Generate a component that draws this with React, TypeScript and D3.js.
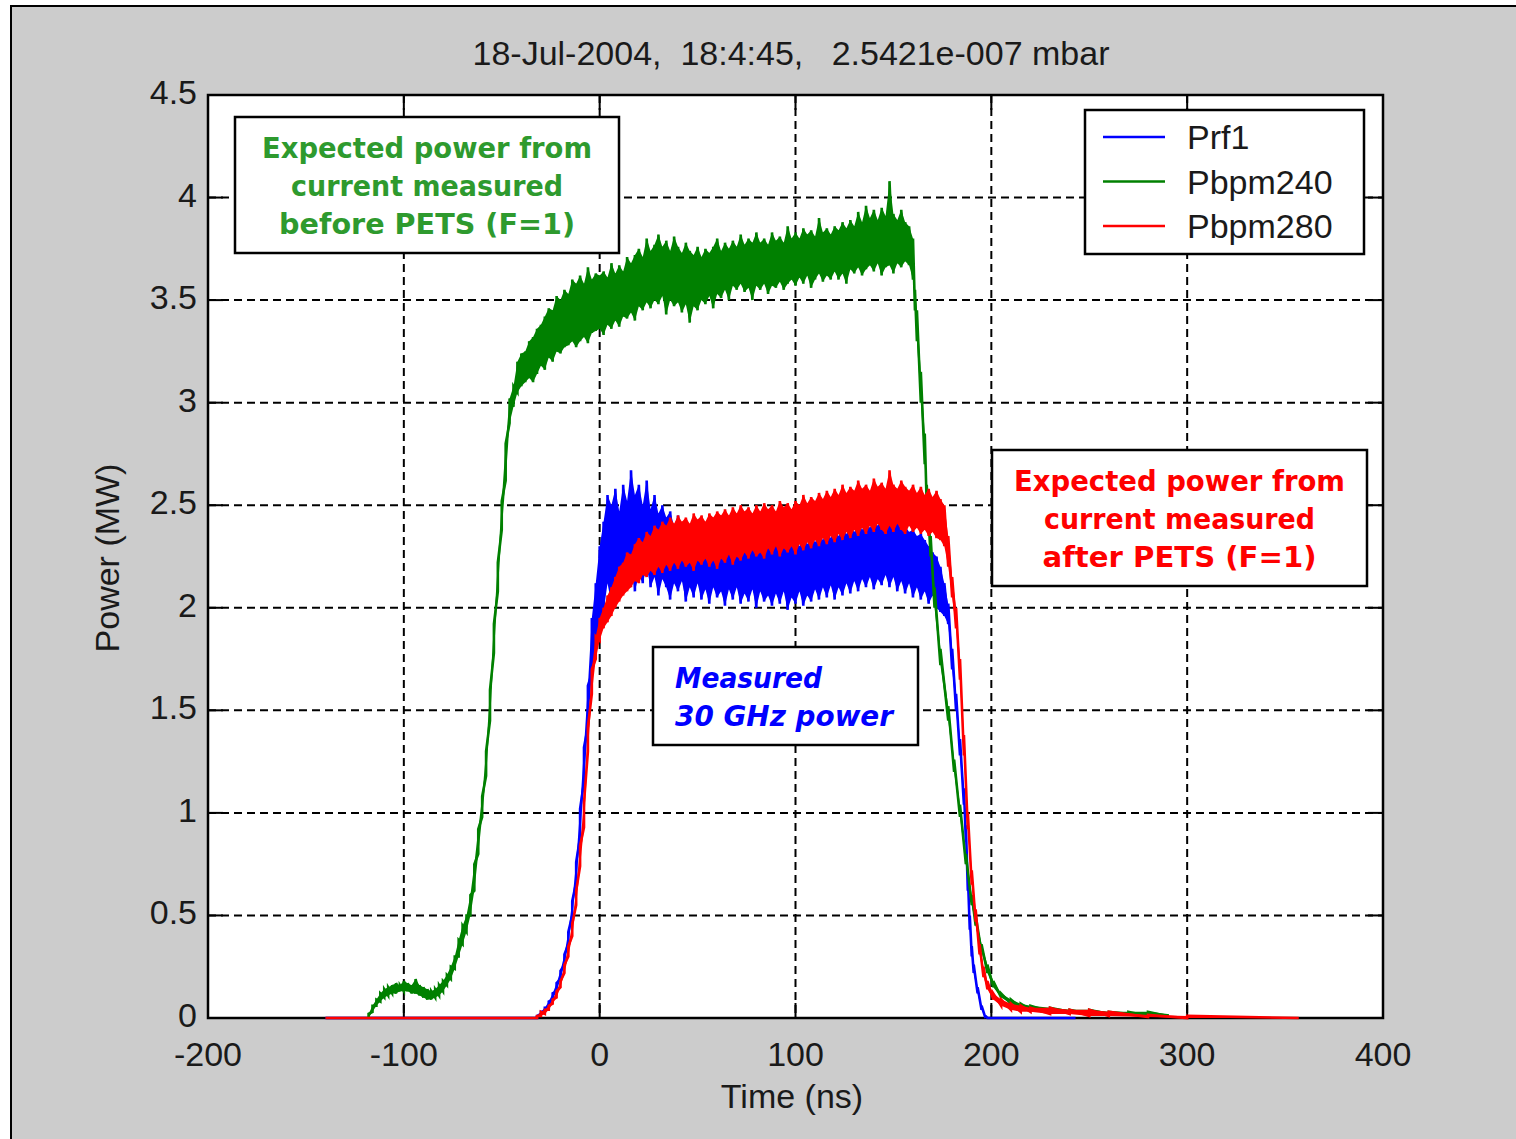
import React from 'react';
import * as d3 from 'd3';

// [time (ns), low, high] in MW — low/high give the noise envelope of each sample
type Sample = [number, number, number];

const xTicks = [-200, -100, 0, 100, 200, 300, 400];
const yTicks = [0, 0.5, 1, 1.5, 2, 2.5, 3, 3.5, 4, 4.5];

const titleText = '18-Jul-2004,  18:4:45,   2.5421e-007 mbar';
const xLabel = 'Time (ns)';
const yLabel = 'Power (MW)';

const prf1: Sample[] = [
  [-140, 0, 0], [-34, 0, 0], [-32, 0, 0.01], [-30, 0.02, 0.03], [-28, 0.03, 0.05], [-26, 0.05, 0.08],
  [-24, 0.09, 0.12], [-22, 0.13, 0.17], [-20, 0.19, 0.23], [-18, 0.26, 0.31], [-16, 0.36, 0.42],
  [-14, 0.5, 0.57], [-12, 0.66, 0.76], [-10, 0.88, 1.02], [-8, 1.15, 1.32], [-6, 1.42, 1.62],
  [-4, 1.68, 1.95], [-2, 1.78, 2.12], [0, 1.88, 2.3],
  [2, 1.98, 2.42], [4, 2.12, 2.55], [6, 2.02, 2.5], [8, 2.15, 2.58], [10, 2.05, 2.47], [12, 2.18, 2.6],
  [14, 2.1, 2.52], [16, 2.2, 2.67], [18, 2.08, 2.55], [20, 2.16, 2.6], [22, 2.12, 2.5], [24, 2.2, 2.62],
  [26, 2.1, 2.48], [28, 2.15, 2.55], [30, 2.06, 2.46], [32, 2.14, 2.5], [34, 2.1, 2.44], [36, 2.04, 2.47],
  [38, 2.12, 2.4], [40, 2.08, 2.45], [42, 2.13, 2.38], [44, 2.03, 2.43], [46, 2.1, 2.37], [48, 2.05, 2.41],
  [50, 2.12, 2.36], [52, 2.04, 2.4], [54, 2.09, 2.34], [56, 2.02, 2.38], [58, 2.1, 2.33], [60, 2.05, 2.36],
  [62, 2.08, 2.31], [64, 2.01, 2.35], [66, 2.09, 2.3], [68, 2.04, 2.34], [70, 2.1, 2.32], [72, 2.02, 2.37],
  [74, 2.07, 2.3], [76, 2.03, 2.33], [78, 2.09, 2.29], [80, 2.0, 2.34], [82, 2.08, 2.31], [84, 2.03, 2.28],
  [86, 2.06, 2.35], [88, 2.01, 2.3], [90, 2.07, 2.33], [92, 2.02, 2.29], [94, 2.08, 2.36], [96, 1.99, 2.31],
  [98, 2.05, 2.3], [100, 2.02, 2.34], [102, 2.08, 2.3], [104, 2.01, 2.35], [106, 2.06, 2.31], [108, 2.03, 2.36],
  [110, 2.09, 2.32], [112, 2.04, 2.37], [114, 2.1, 2.33], [116, 2.05, 2.38], [118, 2.11, 2.34], [120, 2.04, 2.39],
  [122, 2.1, 2.35], [124, 2.06, 2.38], [126, 2.12, 2.36], [128, 2.07, 2.4], [130, 2.13, 2.37], [132, 2.08, 2.41],
  [134, 2.14, 2.38], [136, 2.1, 2.42], [138, 2.15, 2.39], [140, 2.09, 2.43], [142, 2.14, 2.4], [144, 2.11, 2.44],
  [146, 2.16, 2.41], [148, 2.1, 2.43], [150, 2.15, 2.4], [152, 2.08, 2.42], [154, 2.13, 2.38], [156, 2.07, 2.4],
  [158, 2.12, 2.37], [160, 2.05, 2.38], [162, 2.1, 2.35], [164, 2.04, 2.36], [166, 2.08, 2.33], [168, 2.02, 2.3],
  [170, 2.06, 2.27], [172, 2.0, 2.25], [174, 1.98, 2.2], [176, 1.96, 2.12], [178, 1.92, 2.02],
  [180, 1.7, 1.8], [182, 1.5, 1.58], [184, 1.28, 1.36], [186, 1.04, 1.12], [187, 0.86, 0.94], [188, 0.62, 0.7],
  [189, 0.43, 0.5], [190, 0.3, 0.35], [191, 0.22, 0.26], [193, 0.12, 0.15], [195, 0.04, 0.06], [197, 0, 0.01],
  [198, 0, 0], [243, 0, 0],
];

const pbpm240: Sample[] = [
  [-118, 0, 0.02], [-116, 0.03, 0.06], [-114, 0.06, 0.09], [-112, 0.08, 0.12], [-110, 0.1, 0.14],
  [-108, 0.11, 0.15], [-106, 0.12, 0.16], [-104, 0.12, 0.17], [-102, 0.13, 0.16], [-100, 0.13, 0.18],
  [-98, 0.13, 0.17], [-96, 0.12, 0.16], [-94, 0.12, 0.19], [-92, 0.11, 0.16], [-90, 0.1, 0.15],
  [-88, 0.09, 0.14], [-86, 0.09, 0.13], [-84, 0.1, 0.14], [-82, 0.11, 0.16], [-80, 0.13, 0.18],
  [-78, 0.16, 0.21], [-76, 0.19, 0.25], [-74, 0.24, 0.3], [-72, 0.3, 0.38], [-70, 0.36, 0.45],
  [-68, 0.42, 0.5], [-66, 0.5, 0.6], [-64, 0.62, 0.75], [-62, 0.8, 0.92], [-60, 0.98, 1.08],
  [-58, 1.18, 1.3], [-56, 1.45, 1.6], [-54, 1.78, 1.92], [-52, 2.08, 2.22], [-50, 2.38, 2.52],
  [-48, 2.62, 2.8], [-46, 2.9, 3.02], [-44, 2.98, 3.08], [-42, 3.05, 3.2], [-40, 3.08, 3.24],
  [-38, 3.1, 3.25], [-36, 3.12, 3.3], [-34, 3.1, 3.32], [-32, 3.14, 3.36], [-30, 3.18, 3.38],
  [-28, 3.16, 3.42], [-26, 3.22, 3.46], [-24, 3.2, 3.45], [-22, 3.25, 3.52], [-20, 3.24, 3.5],
  [-18, 3.27, 3.55], [-16, 3.28, 3.53], [-14, 3.3, 3.6], [-12, 3.27, 3.58], [-10, 3.3, 3.62],
  [-8, 3.32, 3.58], [-6, 3.29, 3.66], [-4, 3.34, 3.6], [-2, 3.35, 3.63], [0, 3.36, 3.62],
  [2, 3.33, 3.64], [4, 3.38, 3.61], [6, 3.36, 3.68], [8, 3.4, 3.63], [10, 3.37, 3.67], [12, 3.42, 3.64],
  [14, 3.41, 3.71], [16, 3.44, 3.68], [18, 3.4, 3.72], [20, 3.47, 3.75], [22, 3.45, 3.71], [24, 3.49, 3.8],
  [26, 3.46, 3.74], [28, 3.5, 3.77], [30, 3.48, 3.82], [32, 3.52, 3.76], [34, 3.43, 3.79], [36, 3.5, 3.74],
  [38, 3.47, 3.81], [40, 3.49, 3.76], [42, 3.44, 3.73], [44, 3.48, 3.78], [46, 3.39, 3.74], [48, 3.47, 3.72],
  [50, 3.45, 3.76], [52, 3.5, 3.71], [54, 3.48, 3.75], [56, 3.52, 3.73], [58, 3.46, 3.76], [60, 3.53, 3.8],
  [62, 3.51, 3.74], [64, 3.55, 3.78], [66, 3.5, 3.75], [68, 3.57, 3.79], [70, 3.55, 3.76], [72, 3.58, 3.82],
  [74, 3.54, 3.77], [76, 3.56, 3.8], [78, 3.5, 3.78], [80, 3.57, 3.83], [82, 3.55, 3.78], [84, 3.58, 3.8],
  [86, 3.53, 3.77], [88, 3.57, 3.83], [90, 3.56, 3.79], [92, 3.59, 3.81], [94, 3.55, 3.78], [96, 3.58, 3.86],
  [98, 3.6, 3.8], [100, 3.57, 3.83], [102, 3.61, 3.8], [104, 3.58, 3.85], [106, 3.62, 3.82], [108, 3.56, 3.84],
  [110, 3.6, 3.81], [112, 3.63, 3.9], [114, 3.59, 3.83], [116, 3.62, 3.85], [118, 3.6, 3.82], [120, 3.64, 3.86],
  [122, 3.6, 3.84], [124, 3.63, 3.88], [126, 3.58, 3.85], [128, 3.65, 3.89], [130, 3.63, 3.86], [132, 3.66, 3.93],
  [134, 3.62, 3.88], [136, 3.65, 3.96], [138, 3.67, 3.9], [140, 3.64, 3.94], [142, 3.68, 3.89], [144, 3.62, 3.95],
  [146, 3.66, 3.91], [148, 3.67, 4.08], [150, 3.63, 3.92], [152, 3.68, 3.89], [154, 3.66, 3.94], [156, 3.69, 3.88],
  [158, 3.67, 3.86], [160, 3.6, 3.8],
  [161, 3.45, 3.55], [162, 3.3, 3.45], [164, 3.0, 3.15], [166, 2.7, 2.85], [167, 2.5, 2.6], [169, 2.25, 2.35],
  [171, 2.0, 2.1], [174, 1.72, 1.8], [178, 1.45, 1.52], [181, 1.2, 1.26], [184, 0.98, 1.04], [187, 0.75, 0.8],
  [190, 0.55, 0.6], [192, 0.45, 0.5], [195, 0.32, 0.36], [198, 0.22, 0.26], [201, 0.15, 0.18], [205, 0.1, 0.12],
  [210, 0.07, 0.09], [215, 0.05, 0.07], [220, 0.04, 0.06], [230, 0.03, 0.05], [240, 0.03, 0.04],
  [250, 0.02, 0.04], [260, 0.02, 0.03], [270, 0.02, 0.03], [280, 0.01, 0.03], [290, 0.01, 0.02],
];

const pbpm280: Sample[] = [
  [-140, 0, 0], [-34, 0, 0], [-32, 0, 0.01], [-30, 0.01, 0.03], [-28, 0.02, 0.04], [-26, 0.04, 0.06],
  [-24, 0.07, 0.09], [-22, 0.1, 0.13], [-20, 0.15, 0.18], [-18, 0.22, 0.26], [-16, 0.3, 0.35],
  [-14, 0.4, 0.46], [-12, 0.55, 0.62], [-10, 0.74, 0.84], [-8, 0.93, 1.05], [-6, 1.3, 1.42],
  [-4, 1.58, 1.7], [-2, 1.75, 1.86], [0, 1.84, 1.95], [2, 1.9, 2.0], [4, 1.93, 2.06],
  [6, 1.96, 2.1], [8, 2.0, 2.15], [10, 2.03, 2.2], [12, 2.06, 2.22], [14, 2.08, 2.27], [16, 2.1, 2.26],
  [18, 2.13, 2.31], [20, 2.12, 2.34], [22, 2.16, 2.32], [24, 2.15, 2.37], [26, 2.18, 2.35], [28, 2.16, 2.4],
  [30, 2.2, 2.38], [32, 2.17, 2.42], [34, 2.21, 2.4], [36, 2.18, 2.44], [38, 2.22, 2.41], [40, 2.19, 2.45],
  [42, 2.23, 2.42], [44, 2.2, 2.44], [46, 2.22, 2.41], [48, 2.18, 2.46], [50, 2.23, 2.43], [52, 2.21, 2.45],
  [54, 2.24, 2.42], [56, 2.2, 2.46], [58, 2.23, 2.44], [60, 2.19, 2.47], [62, 2.24, 2.45], [64, 2.22, 2.48],
  [66, 2.26, 2.45], [68, 2.21, 2.49], [70, 2.25, 2.46], [72, 2.23, 2.5], [74, 2.27, 2.47], [76, 2.24, 2.49],
  [78, 2.28, 2.46], [80, 2.25, 2.5], [82, 2.27, 2.47], [84, 2.24, 2.51], [86, 2.29, 2.48], [88, 2.26, 2.5],
  [90, 2.3, 2.47], [92, 2.25, 2.52], [94, 2.29, 2.49], [96, 2.27, 2.51], [98, 2.3, 2.48], [100, 2.26, 2.52],
  [102, 2.31, 2.5], [104, 2.28, 2.55], [106, 2.32, 2.51], [108, 2.29, 2.54], [110, 2.33, 2.52], [112, 2.3, 2.56],
  [114, 2.34, 2.53], [116, 2.31, 2.57], [118, 2.35, 2.54], [120, 2.32, 2.58], [122, 2.36, 2.55], [124, 2.33, 2.6],
  [126, 2.37, 2.56], [128, 2.34, 2.59], [130, 2.38, 2.57], [132, 2.35, 2.62], [134, 2.39, 2.58], [136, 2.36, 2.6],
  [138, 2.4, 2.57], [140, 2.37, 2.63], [142, 2.41, 2.59], [144, 2.38, 2.61], [146, 2.36, 2.58], [148, 2.4, 2.67],
  [150, 2.37, 2.6], [152, 2.41, 2.58], [154, 2.38, 2.62], [156, 2.36, 2.59], [158, 2.4, 2.57], [160, 2.37, 2.6],
  [162, 2.39, 2.56], [164, 2.36, 2.59], [166, 2.38, 2.55], [168, 2.35, 2.58], [170, 2.37, 2.54], [172, 2.34, 2.57],
  [174, 2.33, 2.53], [176, 2.3, 2.5], [178, 2.2, 2.35], [180, 2.05, 2.15], [182, 1.9, 2.0], [184, 1.65, 1.75],
  [186, 1.28, 1.38], [188, 0.92, 1.0], [190, 0.65, 0.72], [192, 0.47, 0.53], [194, 0.31, 0.36], [196, 0.2, 0.25],
  [198, 0.14, 0.18], [201, 0.09, 0.12], [205, 0.06, 0.09], [210, 0.04, 0.07], [215, 0.03, 0.06], [220, 0.03, 0.05],
  [230, 0.02, 0.05], [240, 0.02, 0.04], [250, 0.01, 0.04], [260, 0.01, 0.03], [280, 0.005, 0.015],
  [300, 0, 0.01], [357, 0, 0],
];

const series = [
  { name: 'Prf1', color: '#0000ff', data: prf1 },
  { name: 'Pbpm240', color: '#008000', data: pbpm240 },
  { name: 'Pbpm280', color: '#ff0000', data: pbpm280 },
];

const notes = [
  { lines: ['Expected power from', 'current measured', 'before PETS (F=1)'], color: '#2e9a2e', italic: false, box: [235, 117, 384, 136], anchor: 'middle', widths: [330, 272, 296] },
  { lines: ['Expected power from', 'current measured', 'after PETS (F=1)'], color: '#ff0000', italic: false, box: [992, 450, 375, 136], anchor: 'middle', widths: [331, 271, 274] },
  { lines: ['Measured', '30 GHz power'], color: '#0000ff', italic: true, box: [653, 647, 265, 98], anchor: 'start', widths: [147, 218] },
];

const W = 1516;
const H = 1139;
const plot = { left: 208, top: 95, right: 1383, bottom: 1018 };
const tickFont = '"Liberation Sans", Arial, sans-serif';
const noteFont = '"DejaVu Sans", "Noto Sans", sans-serif';

const App = () => {
  const x = d3.scaleLinear().domain([-200, 400]).range([plot.left, plot.right]);
  const y = d3.scaleLinear().domain([0, 4.5]).range([plot.bottom, plot.top]);

  const line = d3.line<[number, number]>()
    .x((d) => x(d[0]))
    .y((d) => y(d[1]));

  const band = d3.area<Sample>()
    .x((d) => x(d[0]))
    .y0((d) => y(d[1]))
    .y1((d) => y(d[2]));

  // each sample becomes a short vertical stroke low -> high, like a dense scope trace
  const toPoints = (data: Sample[]) =>
    data.flatMap(([t, lo, hi]) => (lo === hi ? [[t, lo]] : [[t, lo], [t, hi]]) as [number, number][]);

  const tickLen = 15;

  return (
    <svg width={W} height={H} style={{ position: 'absolute', left: 0, top: 0, display: 'block' }}>
      <rect x={0} y={0} width={W} height={H} fill="#ffffff" />
      <rect x={11} y={6} width={W + 20} height={H + 20} fill="#cccccc" stroke="#000" strokeWidth={2} />

      <text x={791} y={65} textAnchor="middle" fontFamily={tickFont} fontSize={34} fill="#1a1a1a" style={{ whiteSpace: 'pre' }}>
        {titleText}
      </text>

      <rect x={plot.left} y={plot.top} width={plot.right - plot.left} height={plot.bottom - plot.top} fill="#ffffff" />

      {/* dashed grid */}
      <g stroke="#000" strokeWidth={2} strokeDasharray="8,5">
        {xTicks.slice(1, -1).map((t) => (
          <line key={`gx${t}`} x1={x(t)} x2={x(t)} y1={plot.top} y2={plot.bottom} />
        ))}
        {yTicks.slice(1, -1).map((v) => (
          <line key={`gy${v}`} x1={plot.left} x2={plot.right} y1={y(v)} y2={y(v)} />
        ))}
      </g>

      {/* ticks */}
      <g stroke="#000" strokeWidth={2}>
        {xTicks.map((t) => (
          <g key={`tx${t}`}>
            <line x1={x(t)} x2={x(t)} y1={plot.bottom} y2={plot.bottom - tickLen} />
            <line x1={x(t)} x2={x(t)} y1={plot.top} y2={plot.top + tickLen} />
          </g>
        ))}
        {yTicks.map((v) => (
          <g key={`ty${v}`}>
            <line x1={plot.left} x2={plot.left + tickLen} y1={y(v)} y2={y(v)} />
            <line x1={plot.right} x2={plot.right - tickLen} y1={y(v)} y2={y(v)} />
          </g>
        ))}
      </g>

      <rect x={plot.left} y={plot.top} width={plot.right - plot.left} height={plot.bottom - plot.top} fill="none" stroke="#000" strokeWidth={2.5} />

      {/* traces: solid noise band plus the per-sample strokes for the spikes */}
      {series.map((s) => (
        <g key={s.name}>
          <path d={band(s.data) || ''} fill={s.color} stroke="none" />
          <path d={line(toPoints(s.data)) || ''} fill="none" stroke={s.color} strokeWidth={2.6} />
        </g>
      ))}

      {/* tick labels */}
      <g fontFamily={tickFont} fontSize={34} fill="#1a1a1a">
        {xTicks.map((t) => (
          <text key={`lx${t}`} x={x(t)} y={1066} textAnchor="middle">{t}</text>
        ))}
        {yTicks.map((v) => (
          <text key={`ly${v}`} x={197} y={y(v) + 9} textAnchor="end">{v}</text>
        ))}
      </g>

      <text x={792} y={1108} textAnchor="middle" fontFamily={tickFont} fontSize={34} fill="#1a1a1a">{xLabel}</text>
      <text transform="translate(119,558) rotate(-90)" textAnchor="middle" fontFamily={tickFont} fontSize={34} fill="#1a1a1a">{yLabel}</text>

      {/* legend */}
      <g>
        <rect x={1085} y={110} width={279} height={144} fill="#ffffff" stroke="#000" strokeWidth={2.5} />
        {series.map((s, i) => (
          <g key={`lg${s.name}`}>
            <line x1={1103} x2={1165} y1={137 + i * 44.5} y2={137 + i * 44.5} stroke={s.color} strokeWidth={2.5} />
            <text x={1187} y={149 + i * 44.5} fontFamily={tickFont} fontSize={34} fill="#1a1a1a">{s.name}</text>
          </g>
        ))}
      </g>

      {/* annotation boxes */}
      {notes.map((n, i) => {
        const [bx, by, bw, bh] = n.box;
        const tx = n.anchor === 'middle' ? bx + bw / 2 : bx + 22;
        const first = by + 41;
        return (
          <g key={`note${i}`}>
            <rect x={bx} y={by} width={bw} height={bh} fill="#ffffff" stroke="#000" strokeWidth={2.5} />
            {n.lines.map((l, j) => (
              <text
                key={j}
                x={tx}
                y={first + j * 38}
                textAnchor={n.anchor}
                fontFamily={noteFont}
                fontWeight="bold"
                fontStyle={n.italic ? 'italic' : 'normal'}
                fontSize={29}
                fill={n.color}
                textLength={n.widths[j]}
                lengthAdjust="spacingAndGlyphs"
              >
                {l}
              </text>
            ))}
          </g>
        );
      })}
    </svg>
  );
};

export default App;
